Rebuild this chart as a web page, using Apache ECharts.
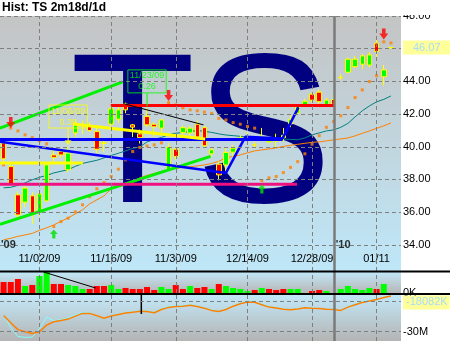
<!DOCTYPE html>
<html><head><meta charset="utf-8">
<script src="https://cdn.jsdelivr.net/npm/echarts@6/dist/echarts.min.js"></script>
<style>html,body{margin:0;padding:0;background:#fff;}#c{width:450px;height:341px;}</style>
</head><body><div id="c"></div>
<script>
// ---------- data ----------
const dates = ['10/26/09','10/27/09','10/28/09','10/29/09','10/30/09',
'11/02/09','11/03/09','11/04/09','11/05/09','11/06/09',
'11/09/09','11/10/09','11/11/09','11/12/09','11/13/09',
'11/16/09','11/17/09','11/18/09','11/19/09','11/20/09',
'11/23/09','11/24/09','11/25/09','11/27/09',
'11/30/09','12/01/09','12/02/09','12/03/09','12/04/09',
'12/07/09','12/08/09','12/09/09','12/10/09','12/11/09',
'12/14/09','12/15/09','12/16/09','12/17/09','12/18/09',
'12/21/09','12/22/09','12/23/09','12/24/09',
'12/28/09','12/29/09','12/30/09','12/31/09',
'01/04/10','01/05/10','01/06/10','01/07/10','01/08/10',
'01/11/10','01/12/10','01/13/10'];
const opens  = [40.24,38.79,37.06,36.61,37.00,35.98,36.69,39.50,39.71,38.59,40.85,41.35,41.30,40.93,40.25,41.39,41.69,42.61,41.34,40.79,41.85,41.38,41.14,38.59,39.85,40.87,40.85,41.38,41.17,39.57,38.93,38.89,39.67,40.45,40.55,40.12,40.55,40.30,40.45,40.55,41.40,42.06,42.52,43.22,43.34,42.56,42.89,44.25,44.56,44.90,45.05,45.00,46.34,44.29,46.05];
const closes = [39.26,37.71,35.83,37.47,35.85,37.12,38.89,39.35,39.50,39.61,41.43,41.30,40.99,39.85,40.20,42.32,42.26,42.26,41.20,40.56,41.34,41.22,41.64,39.98,39.40,41.17,41.14,40.60,40.06,39.81,38.28,39.65,39.91,40.55,40.50,40.10,40.60,40.50,40.35,40.70,41.68,42.48,42.78,42.85,42.76,42.85,42.60,44.22,45.36,45.36,45.56,45.62,45.82,44.70,46.07];
const lows   = [39.10,37.60,35.59,36.30,35.27,35.73,36.60,39.10,39.30,38.45,40.60,40.80,40.90,39.60,39.70,41.25,41.45,42.05,40.60,40.20,41.20,40.60,40.90,38.50,39.20,40.40,40.70,40.40,39.95,39.40,37.95,38.50,39.40,40.30,40.35,39.90,40.40,40.20,39.90,40.30,41.20,41.95,42.45,42.70,42.60,42.50,42.55,44.10,44.50,44.80,44.75,44.85,45.50,43.75,46.00];
const highs  = [40.35,39.00,37.26,37.60,37.22,37.26,39.00,39.90,39.90,40.00,41.60,41.60,41.50,41.20,40.50,42.45,42.45,42.70,41.40,41.05,42.36,41.50,41.70,40.22,40.00,41.30,41.30,41.60,41.30,39.95,39.10,39.93,40.10,40.70,40.90,40.30,41.15,40.60,40.80,41.15,42.00,42.60,42.95,43.30,43.50,43.00,43.20,44.45,45.45,45.55,45.66,45.80,46.55,45.00,46.10];
const volumes = [1100,1100,1400,700,800,1700,2100,900,900,800,700,400,400,700,700,800,400,500,400,400,600,300,600,400,800,400,700,500,600,400,900,700,500,400,200,300,500,400,300,400,400,400,0,200,300,200,0,400,700,400,300,500,400,900,0];
const volDir  = [-1,-1,-1,1,-1,1,1,-1,-1,1,1,1,-1,-1,-1,1,1,-1,-1,-1,-1,-1,1,1,-1,-1,1,-1,-1,1,-1,1,1,1,1,-1,1,-1,-1,-1,1,1,1,-1,-1,1,-1,1,1,1,1,1,-1,1,1];
const sar = [38.89,41.14,40.97,40.73,40.56,40.36,40.18,35.12,35.42,35.63,36.02,36.45,36.94,37.43,37.81,38.18,38.63,39.20,39.71,39.96,40.05,40.12,40.24,42.70,42.56,42.38,42.26,42.20,42.12,42.04,41.74,41.64,41.48,41.38,41.24,41.14,37.93,38.10,38.18,38.42,38.74,39.09,39.57,40.16,40.68,41.19,41.54,41.90,42.40,43.01,43.48,43.99,44.35,46.42,46.35];
const maTeal = [37.49,37.52,37.64,37.79,37.98,38.13,38.25,38.40,38.50,38.60,38.80,38.98,39.08,39.17,39.32,39.47,39.60,39.75,39.90,39.99,40.30,40.45,40.57,40.73,40.83,40.88,40.92,41.00,40.94,40.88,40.79,40.72,40.68,40.64,40.59,40.56,40.53,40.51,40.48,40.47,40.45,40.43,40.54,40.73,40.85,40.97,41.03,41.19,41.43,41.83,42.20,42.50,42.75,42.90,43.11];
const maOrange = [34.31,34.40,34.52,34.61,34.70,34.89,35.04,35.22,35.44,35.65,35.90,36.14,36.51,36.75,37.00,37.43,37.58,37.73,37.88,38.10,38.25,38.37,38.50,38.59,38.68,38.74,38.78,38.83,38.89,38.98,39.11,39.32,39.41,39.50,39.63,39.75,39.81,39.87,39.93,40.02,40.09,40.15,40.21,40.27,40.30,40.36,40.42,40.48,40.54,40.67,40.82,40.97,41.13,41.28,41.46];
const indOrange = [-24.6,-27.0,-29.3,-30.0,-30.6,-30.0,-27.8,-26.7,-26.3,-25.8,-24.8,-23.9,-23.9,-24.7,-25.5,-24.8,-24.3,-23.8,-23.5,-23.2,-23.3,-23.7,-22.6,-21.9,-21.6,-21.5,-21.2,-21.6,-22.2,-22.9,-23.3,-22.6,-21.5,-20.7,-20.1,-20.2,-21.0,-21.8,-22.1,-22.5,-22.7,-22.4,-22.0,-22.2,-22.3,-22.5,-22.6,-22.9,-21.8,-21.0,-20.3,-19.8,-19.3,-18.6,-18.08];
const indCyan = [-24.4,-28.6,-31.6,-31.9,-31.8,-29.0,-25.2,-26.3,-26.0,-25.4,-24.4,-23.6,-23.7,-24.9,-25.6,-24.6,-24.1,-23.6,-23.3,-23.0,-23.1,-23.5,-22.3,-21.6,-21.4,-21.3,-21.0,-21.4,-22.0,-22.7,-23.2,-22.4,-21.3,-20.5,-19.9,-20.0,-20.8,-21.6,-22.0,-22.4,-22.6,-22.3,-21.9,-22.1,-22.2,-22.4,-22.5,-22.8,-21.6,-20.7,-20.0,-19.5,-19.1,-18.5,-18.08];
const priceTicks = [34,36,38,40,42,44,46,48];
const indGridVals = [-20,-30];
const indLabelVals = [-30];
const dateLabels = ['11/02/09','11/16/09','11/30/09','12/14/09','12/28/09','01/11'];
const yearBoundary = 46.15;
const yearMarks = [[-0.5, 34], [46.15, 34]];
const yearTexts = ["'09", "'10"];
const lastPrice = 46.07;
const lastIndK = -18082;
// drawing-tool lines: [index, value] pairs
const greenUpper = [[-0.5, 41.14], [16.6, 43.97]];
const greenLower = [[-0.5, 35.26], [28.85, 39.41]];
const blueFlat   = [[-0.5, 40.45], [38.9, 40.45]];
const blueZigzag = [[-0.5, 40.31], [31.0, 38.40], [33.7, 40.61], [38.9, 40.51], [41.1, 42.41]];
const redFlat    = [[14.94, 42.52], [46.2, 42.52]];
const pinkFlat   = [[-0.5, 37.71], [40.9, 37.71]];
const yellowFlat = [[-0.5, 39.0], [11.04, 39.0]];
const yellowSlant= [[9.65, 41.40], [28.1, 40.48]];
const blackSlant = [[16.88, 42.62], [27.87, 41.34]];
const volLine    = [[5.58, 2100], [12.84, 500]];
const indMarker  = [[19.2, -17.77], [19.2, -24.1]];
const sellSignals = [[1, 41.48], [23, 43.14], [53, 46.9]];
const buySignals  = [[7, 34.67], [36, 37.42]];
const notes = [{idx: 9, y: 41.85, date: '11/06/09', val: '0.39', from: 41.16, to: 40.35, tri: 40.24},
               {idx: 20, y: 44.0, date: '11/23/09', val: '0.26', from: 43.28, to: 42.46}];

// ---------- chart ----------
const FONT = 'Liberation Sans';
const labelIdx = dateLabels.map(l => dates.findIndex(d => d.startsWith(l)));
const GRID_DASH = {color: '#7f7f7f', width: 1, type: [4, 3]};

function frame(g, hVals) {
  const data = labelIdx.map(i => ({xAxis: i}));
  hVals.forEach(v => data.push({yAxis: v}));
  data.push({xAxis: yearBoundary, lineStyle: {color: '#7a7a7a', width: 2.5, type: 'solid'}});
  return {type: 'line', xAxisIndex: g, yAxisIndex: g, data: [], silent: true, z: 1.5,
    markLine: {silent: true, symbol: ['none', 'none'], label: {show: false}, lineStyle: GRID_DASH, data: data, animation: false}};
}
function seg(pts, color, width, g, z) {
  return {type: 'line', xAxisIndex: g || 0, yAxisIndex: g || 0, data: pts, symbol: 'none', showSymbol: false,
    lineStyle: {color: color, width: width}, z: z || 4, silent: true};
}
const xBase = g => ({type: 'value', gridIndex: g, min: -0.5, max: 55.4, axisLine: {show: false},
  axisTick: {show: false}, splitLine: {show: false}, axisLabel: {show: false}});
const yLab = {color: '#000', fontSize: 11, fontFamily: FONT, margin: 2};

const xAxis0 = xBase(0);
xAxis0.axisLabel = {show: true, inside: true, margin: 7, customValues: labelIdx, color: '#000', fontSize: 11, fontFamily: FONT,
  formatter: v => { const k = labelIdx.indexOf(Math.round(v)); return k >= 0 ? dateLabels[k] : ''; }};

const option = {
  animation: false,
  grid: [
    {left: -1, top: 16, width: 402, height: 255, show: true, borderWidth: 0,
     backgroundColor: {type: 'linear', x: 0, y: 0, x2: 0, y2: 1, colorStops: [{offset: 0, color: '#c4c4c4'}, {offset: 1, color: '#bee7f8'}]}},
    {left: -1, top: 272, width: 402, height: 21, show: true, borderWidth: 0,
     backgroundColor: {type: 'linear', x: 0, y: 0, x2: 0, y2: 1, colorStops: [{offset: 0, color: '#c2e8f8'}, {offset: 1, color: '#b6b6b6'}]}},
    {left: -1, top: 295, width: 402, height: 46, show: true, borderWidth: 0,
     backgroundColor: {type: 'linear', x: 0, y: 0, x2: 0, y2: 1, colorStops: [{offset: 0, color: '#c2e8f8'}, {offset: 1, color: '#b4b4b4'}]}}
  ],
  xAxis: [xAxis0, xBase(1), xBase(2)],
  yAxis: [
    {type: 'value', gridIndex: 0, position: 'right', min: 32.4, max: 48, axisLine: {show: false}, axisTick: {show: false}, splitLine: {show: false},
     axisLabel: Object.assign({customValues: priceTicks, formatter: v => v.toFixed(2)}, yLab)},
    {type: 'value', gridIndex: 1, position: 'right', min: 0, max: 2100, axisLine: {show: false}, axisTick: {show: false}, splitLine: {show: false},
     axisLabel: Object.assign({customValues: [0], formatter: v => v + 'K'}, yLab)},
    {type: 'value', gridIndex: 2, position: 'right', min: -33.1, max: -17.77, axisLine: {show: false}, axisTick: {show: false}, splitLine: {show: false},
     axisLabel: Object.assign({customValues: indLabelVals, formatter: v => v + 'M'}, yLab)}
  ],
  graphic: {elements: [
    {type: 'text', z: 1, silent: true, x: 70, y: 143, scaleX: 0.963,
     style: {text: 'TS', x: 0, y: 0, fontFamily: 'Liberation Sans', fontSize: 213, fill: '#000080', verticalAlign: 'middle'}},
    {type: 'rect', z: 20, silent: true, shape: {x: 0, y: 0, width: 450, height: 15}, style: {fill: '#ffffff'}},
    {type: 'text', z: 21, silent: true, style: {text: 'Hist: TS 2m18d/1d', x: 2, y: 2, fontFamily: 'Liberation Sans', fontSize: 12, fontWeight: 'bold', fill: '#000', verticalAlign: 'top'}},
    {type: 'line', z: 20, silent: true, shape: {x1: 0, y1: 271.4, x2: 450, y2: 271.4}, style: {stroke: '#000', lineWidth: 2}},
    {type: 'line', z: 20, silent: true, shape: {x1: 0, y1: 294, x2: 450, y2: 294}, style: {stroke: '#000', lineWidth: 2}}
  ]},
  series: [
    frame(0, priceTicks), frame(1, []), frame(2, indGridVals),
    seg(maTeal.map((v, i) => [i, v]), '#008080', 1, 0, 2.5),
    seg(maOrange.map((v, i) => [i, v]), '#ff8000', 1, 0, 2.5),
    {type: 'scatter', xAxisIndex: 0, yAxisIndex: 0, data: sar.map((v, i) => [i, v]), symbol: 'rect', symbolSize: 3,
     itemStyle: {color: '#ff8000'}, z: 2.6, silent: true},
    {type: 'candlestick', xAxisIndex: 0, yAxisIndex: 0, z: 3, barWidth: 5,
     data: dates.map((d, i) => [i, opens[i], closes[i], lows[i], highs[i]]), encode: {x: 0, y: [1, 2, 3, 4]},
     itemStyle: {color: '#00ff00', color0: '#ff0000', borderColor: '#ffff00', borderColor0: '#ffff00', borderColorDoji: '#ffff00', borderWidth: 1}},
    seg(greenUpper, '#00f000', 3), seg(greenLower, '#00f000', 3),
    seg(blueFlat, '#0000ff', 3), seg(blueZigzag, '#0000ff', 2.5),
    seg(redFlat, '#ff0000', 3), seg(pinkFlat, '#f0107f', 3),
    seg(yellowFlat, '#ffff00', 3), seg(yellowSlant, '#ffff00', 3),
    seg(blackSlant, '#000000', 1),
    {type: 'scatter', xAxisIndex: 0, yAxisIndex: 0, data: sellSignals, symbol: 'path://M3,0L7,0L7,5L10,5L5,11L0,5L3,5Z',
     symbolSize: [9, 11], itemStyle: {color: '#ff0000'}, z: 5, silent: true},
    {type: 'scatter', xAxisIndex: 0, yAxisIndex: 0, data: buySignals, symbol: 'path://M5,0L10,5L7,5L7,10L3,10L3,5L0,5Z',
     symbolSize: [8, 9], itemStyle: {color: '#00e000'}, z: 5, silent: true},
    ...notes.map((n, k) => seg([[n.idx, n.from], [n.idx, n.to]], k === 0 ? '#ffff00' : '#00ff00', 1, 0, 5)),
    {type: 'scatter', xAxisIndex: 0, yAxisIndex: 0, z: 5, silent: true, symbolSize: 1, itemStyle: {color: 'rgba(0,0,0,0)'},
     data: notes.map((n, k) => ({value: [n.idx, n.y], label: {show: true, position: 'inside', formatter: n.date + '\n' + n.val,
       color: k === 0 ? '#ffff00' : '#00ff00', borderColor: k === 0 ? '#ffff00' : '#00ff00', borderWidth: 1,
       fontSize: 9, lineHeight: 11, padding: [1, 2, 0, 2], fontFamily: FONT}}))},
    {type: 'scatter', xAxisIndex: 0, yAxisIndex: 0, z: 5, silent: true, symbol: 'triangle', symbolRotate: 180, symbolSize: [7, 5],
     itemStyle: {color: '#ffff00'}, data: notes.filter(n => n.tri != null).map(n => [n.idx, n.tri])},
    {type: 'scatter', xAxisIndex: 0, yAxisIndex: 0, z: 5, silent: true, symbolSize: 0,
     data: yearMarks.map((p, k) => ({value: p, label: {show: true, position: 'right', distance: 1, formatter: yearTexts[k],
       color: '#000', fontWeight: 'bold', fontSize: 11, fontFamily: FONT}})),
     markPoint: {symbol: 'circle', symbolSize: 0, silent: true, animation: false,
       label: {show: true, position: 'right', distance: 2, formatter: lastPrice.toFixed(2), backgroundColor: '#ffff99',
         color: '#a8dcf8', fontSize: 11, fontFamily: FONT, padding: [2, 10, 1, 10]},
       data: [{coord: [55.4, lastPrice]}]}},
    {type: 'bar', xAxisIndex: 1, yAxisIndex: 1, barWidth: 6, z: 3, silent: true,
     data: volumes.map((v, i) => ({value: [i, v], itemStyle: {color: volDir[i] > 0 ? '#00ff00' : '#ff0000'}}))},
    seg(volLine, '#000000', 1, 1, 4),
    seg(indCyan.map((v, i) => [i, v]), '#80ffff', 1, 2, 3),
    Object.assign(seg(indOrange.map((v, i) => [i, v]), '#ff8000', 1.5, 2, 3.5), {
      markPoint: {symbol: 'circle', symbolSize: 0, silent: true, animation: false,
        label: {show: true, position: 'right', distance: 2, offset: [0, 6.5], formatter: lastIndK + 'K', backgroundColor: '#ffff99',
          color: '#a8dcf8', fontSize: 11, fontFamily: FONT, padding: [2, 2, 1, 3]},
        data: [{coord: [55.4, lastIndK / 1000]}]}}),
    seg(indMarker, '#000000', 1.5, 2, 4)
  ]
};
const chart = echarts.init(document.getElementById('c'));
chart.setOption(option);
</script></body></html>
